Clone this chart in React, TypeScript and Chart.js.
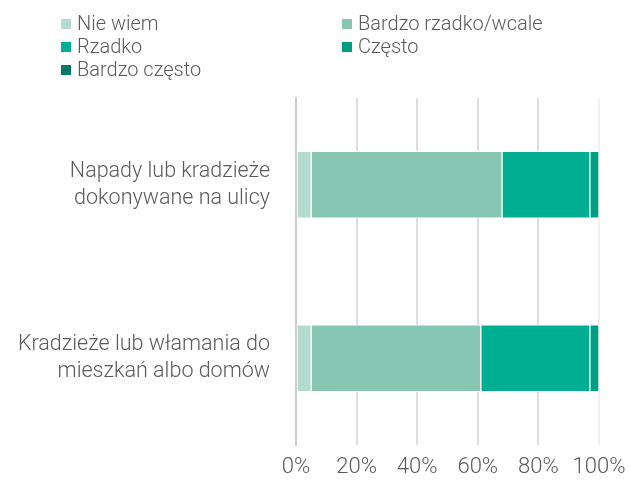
import React, { useEffect, useRef } from "react";
import { Chart, registerables } from "chart.js";

Chart.register(...registerables);

const categories: string[][] = [
  ["Napady lub kradzieże", "dokonywane na ulicy"],
  ["Kradzieże lub włamania do", "mieszkań albo domów"],
];
const seriesNames = ["Nie wiem", "Bardzo rzadko/wcale", "Rzadko", "Często", "Bardzo często"];
const seriesColors = ["#b3dbd0", "#88c6b4", "#00af91", "#009e80", "#007a64"];
const nieWiem = [5, 5];
const bardzoRzadko = [63, 56];
const rzadko = [29, 36];
const czesto = [3, 3];
const bardzoCzesto = [0, 0];
const xTicks = [0, 20, 40, 60, 80, 100];

const FONT = "Roboto, 'Open Sans', 'DejaVu Sans', sans-serif";
const TEXT = "#5a5a5a";

const legendPlugin = {
  id: "gridLegend",
  afterDraw(chart: any) {
    const ctx = chart.ctx;
    const cols = [61, 342];
    const rows = [24, 47, 70];
    ctx.save();
    ctx.font = `300 20px ${FONT}`;
    ctx.textBaseline = "middle";
    ctx.textAlign = "left";
    chart.data.datasets.forEach((ds: any, i: number) => {
      const x = cols[i % 2];
      const y = rows[Math.floor(i / 2)];
      ctx.fillStyle = ds.backgroundColor;
      ctx.fillRect(x, y - 5, 10, 10);
      ctx.fillStyle = TEXT;
      ctx.fillText(ds.label, x + 16, y + 1);
    });
    ctx.restore();
  },
};

export default function App() {
  const ref = useRef<HTMLCanvasElement>(null);
  useEffect(() => {
    if (!ref.current) return;
    const values = [nieWiem, bardzoRzadko, rzadko, czesto, bardzoCzesto];
    const chart = new Chart(ref.current, {
      type: "bar",
      data: {
        labels: categories,
        datasets: seriesNames.map((name, i) => ({
          label: name,
          data: values[i],
          backgroundColor: seriesColors[i],
          borderColor: "#ffffff",
          borderWidth: 1,
          borderSkipped: false,
          barThickness: 67,
        })),
      },
      options: {
        indexAxis: "y",
        animation: false,
        responsive: true,
        maintainAspectRatio: false,
        layout: { padding: { top: 98, right: 31, bottom: 0, left: 0 } },
        plugins: {
          legend: { display: false },
          tooltip: { enabled: false },
        },
        scales: {
          x: {
            stacked: true,
            min: 0,
            max: 100,
            afterBuildTicks: (scale: any) => {
              scale.ticks = xTicks.map((v) => ({ value: v }));
            },
            afterFit: (scale: any) => {
              scale.height = 37;
              scale.paddingLeft = 0;
              scale.paddingRight = 0;
            },
            ticks: {
              callback: (v: any) => v + "%",
              color: TEXT,
              font: { family: FONT, size: 22, weight: "300" },
              padding: 9,
              maxRotation: 0,
            },
            grid: {
              drawTicks: false,
              color: (ctx: any) =>
                ctx.tick && ctx.tick.value === 100 ? "#f0f0f0" : "#dddddd",
              lineWidth: 2,
            },
            border: { display: false },
          },
          y: {
            stacked: true,
            z: 1,
            afterFit: (scale: any) => {
              scale.width = 296;
              scale.paddingTop = 0;
              scale.paddingBottom = 0;
            },
            ticks: {
              color: TEXT,
              font: { family: FONT, size: 21.5, weight: "300", lineHeight: 1.26 },
              padding: 26,
            },
            grid: { display: false, drawTicks: false },
            border: { display: true, color: "#cccccc", width: 2 },
          },
        },
      },
      plugins: [legendPlugin],
    });
    return () => chart.destroy();
  }, []);
  return (
    <div style={{ position: "fixed", left: 0, top: 0, width: 630, height: 482 }}>
      <canvas ref={ref} />
    </div>
  );
}
